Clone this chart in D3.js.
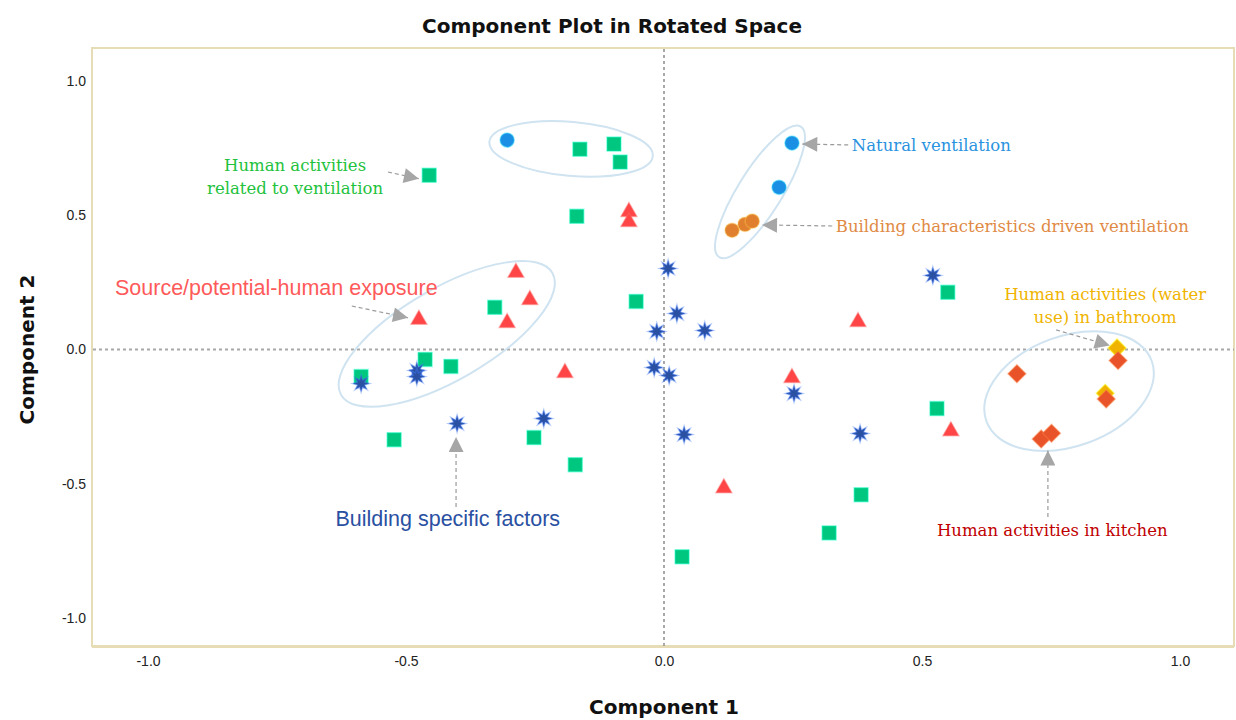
<!DOCTYPE html>
<html>
<head>
<meta charset="utf-8">
<script src="https://cdn.jsdelivr.net/npm/d3@7"></script>
<style>
  html, body { margin: 0; padding: 0; background: #fff; }
  svg { display: block; }
</style>
</head>
<body>
<div id="chart"></div>
<script>
// component loadings [component 1, component 2]
const naturalVentilation = [[-0.304, 0.780], [0.248, 0.769], [0.223, 0.604]];
const buildingVentilation = [[0.132, 0.444], [0.157, 0.466], [0.171, 0.478]];
const humanVentilation = [
  [-0.455, 0.649], [-0.163, 0.746], [-0.097, 0.765], [-0.085, 0.698], [-0.169, 0.496],
  [-0.054, 0.179], [-0.328, 0.157], [-0.463, -0.037], [-0.413, -0.063], [-0.587, -0.101],
  [-0.523, -0.336], [-0.252, -0.328], [-0.172, -0.429], [0.035, -0.772], [0.320, -0.683],
  [0.382, -0.541], [0.529, -0.220], [0.550, 0.213]
];
const sourceExposure = [
  [-0.068, 0.518], [-0.068, 0.480], [-0.287, 0.291], [-0.260, 0.190], [-0.304, 0.104],
  [-0.475, 0.116], [-0.192, -0.082], [0.116, -0.511], [0.248, -0.101], [0.376, 0.108],
  [0.556, -0.299]
];
const buildingFactors = [
  [0.008, 0.302], [0.025, 0.134], [-0.014, 0.067], [0.079, 0.071], [-0.019, -0.067],
  [0.010, -0.097], [0.039, -0.317], [-0.587, -0.127], [-0.479, -0.078], [-0.479, -0.101],
  [-0.401, -0.276], [-0.233, -0.257], [0.521, 0.276], [0.252, -0.164], [0.380, -0.313]
];
const bathroom = [[0.878, 0.006], [0.855, -0.163]];
const kitchen = [[0.684, -0.090], [0.880, -0.041], [0.857, -0.184], [0.731, -0.333], [0.751, -0.312]];

const xTicks = [-1.0, -0.5, 0.0, 0.5, 1.0];
const yTicks = [-1.0, -0.5, 0.0, 0.5, 1.0];

const groups = [
  { data: naturalVentilation, shape: "circle", color: "#1a8fe3" },
  { data: buildingVentilation, shape: "circle", color: "#e0802f" },
  { data: humanVentilation, shape: "square", color: "#00c77f" },
  { data: sourceExposure, shape: "triangle", color: "#ff4545" },
  { data: buildingFactors, shape: "asterisk", color: "#2a50a2" },
  { data: bathroom, shape: "diamond", color: "#f0b400" },
  { data: kitchen, shape: "diamond", color: "#e8532a" }
];

// cluster outlines: centre in data units, radii/angle in px
const ellipses = [
  { c: [-0.180, 0.747], rx: 82, ry: 27, angle: 5 },
  { c: [0.186, 0.587], rx: 77, ry: 22, angle: -58 },
  { c: [-0.421, 0.058], rx: 122, ry: 46, angle: -30 },
  { c: [0.785, -0.155], rx: 88, ry: 55, angle: -20 }
];

const labels = [
  { lines: ["Human activities", "related to ventilation"], at: [-0.715, 0.665], anchor: "middle", serif: true, color: "#1ec23c",
    from: [-0.535, 0.661], to: [-0.475, 0.636] },
  { lines: ["Natural ventilation"], at: [0.364, 0.739], anchor: "start", serif: true, color: "#2a93e0",
    from: [0.357, 0.762], to: [0.268, 0.765] },
  { lines: ["Building characteristics driven ventilation"], at: [0.333, 0.438], anchor: "start", serif: true, color: "#e08a45",
    from: [0.326, 0.460], to: [0.190, 0.464] },
  { lines: ["Source/potential-human exposure"], at: [-1.064, 0.203], anchor: "start", serif: false, color: "#ff5a5a",
    from: [-0.605, 0.162], to: [-0.496, 0.118] },
  { lines: ["Human activities (water", "use) in bathroom"], at: [0.855, 0.184], anchor: "middle", serif: true, color: "#f0b400",
    from: [0.760, 0.073], to: [0.864, 0.015] },
  { lines: ["Building specific factors"], at: [-0.419, -0.657], anchor: "middle", serif: false, color: "#2a50a2",
    from: [-0.403, -0.587], to: [-0.403, -0.326] },
  { lines: ["Human activities in kitchen"], at: [0.529, -0.695], anchor: "start", serif: true, color: "#c00000",
    from: [0.744, -0.624], to: [0.744, -0.376] }
];

const width = 1236, height = 720;
const x = d3.scaleLinear().domain([-1, 1]).range([148, 1180]);
const y = d3.scaleLinear().domain([-1, 1]).range([618, 81]);
const frame = { left: 92, right: 1234, top: 48, bottom: 646 };
const titleFont = "'DejaVu Sans', Arial, sans-serif";

const svg = d3.select("#chart").append("svg")
  .attr("width", width)
  .attr("height", height)
  .attr("font-family", "Arial, 'Liberation Sans', sans-serif");

const defs = svg.append("defs");
defs.append("marker")
  .attr("id", "head")
  .attr("viewBox", "0 0 10 10")
  .attr("refX", 10).attr("refY", 5)
  .attr("markerWidth", 17).attr("markerHeight", 15)
  .attr("markerUnits", "userSpaceOnUse")
  .attr("orient", "auto")
  .append("path").attr("d", "M0,0L10,5L0,10Z").attr("fill", "#a6a6a6");

svg.append("text")
  .attr("x", 612).attr("y", 33)
  .attr("text-anchor", "middle")
  .attr("font-family", titleFont)
  .attr("font-size", 20).attr("font-weight", "bold").attr("fill", "#111")
  .text("Component Plot in Rotated Space");

// plot frame
svg.append("rect")
  .attr("x", frame.left).attr("y", frame.top)
  .attr("width", frame.right - frame.left).attr("height", frame.bottom - frame.top)
  .attr("fill", "#fff").attr("stroke", "#e6dcb6").attr("stroke-width", 2);
svg.append("line")
  .attr("x1", frame.left).attr("x2", frame.right)
  .attr("y1", frame.bottom + 1).attr("y2", frame.bottom + 1)
  .attr("stroke", "#e6dcb6").attr("stroke-width", 2);

// zero reference lines
svg.append("line")
  .attr("x1", x(0)).attr("x2", x(0)).attr("y1", frame.top + 1).attr("y2", frame.bottom)
  .attr("stroke", "#a8a8a8").attr("stroke-width", 2).attr("stroke-dasharray", "3,3");
svg.append("line")
  .attr("x1", frame.left + 1).attr("x2", frame.right).attr("y1", y(0)).attr("y2", y(0))
  .attr("stroke", "#a8a8a8").attr("stroke-width", 2).attr("stroke-dasharray", "3,3");

// axes (labels only)
const fmt = (d) => d.toFixed(1);
const xAxis = svg.append("g")
  .attr("transform", `translate(0,${frame.bottom + 6})`)
  .call(d3.axisBottom(x).tickValues(xTicks).tickFormat(fmt).tickSize(0).tickPadding(4));
const yAxis = svg.append("g")
  .attr("transform", `translate(${frame.left - 6},0)`)
  .call(d3.axisLeft(y).tickValues(yTicks).tickFormat(fmt).tickSize(0).tickPadding(0));
[xAxis, yAxis].forEach((g) => {
  g.select(".domain").remove();
  g.selectAll("text").attr("font-size", 14).attr("fill", "#222").attr("font-family", "Arial, 'Liberation Sans', sans-serif");
});

svg.append("text")
  .attr("x", x(0)).attr("y", 714)
  .attr("text-anchor", "middle")
  .attr("font-family", titleFont)
  .attr("font-size", 20).attr("font-weight", "bold").attr("fill", "#111")
  .text("Component 1");
svg.append("text")
  .attr("transform", `translate(34,${y(0)}) rotate(-90)`)
  .attr("text-anchor", "middle")
  .attr("font-family", titleFont)
  .attr("font-size", 20).attr("font-weight", "bold").attr("fill", "#111")
  .text("Component 2");

// ellipses
svg.append("g").selectAll("ellipse")
  .data(ellipses)
  .join("ellipse")
  .attr("transform", (d) => `translate(${x(d.c[0])},${y(d.c[1])}) rotate(${d.angle})`)
  .attr("rx", (d) => d.rx).attr("ry", (d) => d.ry)
  .attr("fill", "none").attr("stroke", "#cfe3f0").attr("stroke-width", 2);

// marker shapes
function asteriskPath(r) {
  const pts = [];
  for (let i = 0; i < 16; i++) {
    const a = (i * Math.PI) / 8 - Math.PI / 2;
    const rr = i % 2 === 0 ? r : r * 0.45;
    pts.push([rr * Math.cos(a), rr * Math.sin(a)]);
  }
  return "M" + pts.map((p) => p.join(",")).join("L") + "Z";
}
const shapes = {
  circle: d3.symbol(d3.symbolCircle, 160)(),
  square: "M-7,-7H7V7H-7Z",
  triangle: "M0,-8L8,6H-8Z",
  diamond: "M0,-9L9,0L0,9L-9,0Z",
  asterisk: asteriskPath(8.5)
};

groups.forEach((g) => {
  svg.append("g").selectAll("path")
    .data(g.data)
    .join("path")
    .attr("transform", (d) => `translate(${x(d[0])},${y(d[1])})`)
    .attr("d", shapes[g.shape])
    .attr("fill", g.color)
    .attr("stroke", d3.color(g.color).brighter(1.2))
    .attr("stroke-opacity", 0.4)
    .attr("stroke-width", 1.5);
});

// labels with dashed pointer arrows
const ann = svg.append("g");
labels.forEach((l) => {
  ann.append("line")
    .attr("x1", x(l.from[0])).attr("y1", y(l.from[1]))
    .attr("x2", x(l.to[0])).attr("y2", y(l.to[1]))
    .attr("stroke", "#9a9a9a").attr("stroke-width", 1.2).attr("stroke-dasharray", "4,3")
    .attr("marker-end", "url(#head)");
  const t = ann.append("text")
    .attr("x", x(l.at[0])).attr("y", y(l.at[1]))
    .attr("text-anchor", l.anchor)
    .attr("fill", l.color)
    .attr("font-size", l.serif ? 16.5 : 21.5)
    .attr("font-family", l.serif ? "'DejaVu Serif', serif" : "Arial, 'Liberation Sans', sans-serif");
  l.lines.forEach((line, i) => {
    t.append("tspan").attr("x", x(l.at[0])).attr("dy", i === 0 ? 0 : 23).text(line);
  });
});
</script>
</body>
</html>
